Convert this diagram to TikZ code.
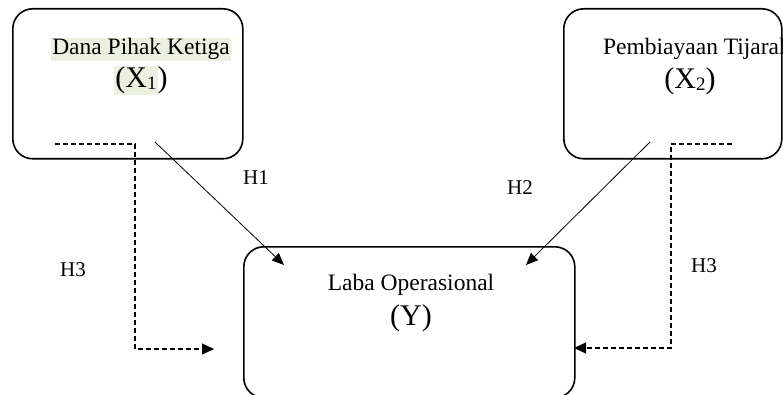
\documentclass[tikz,border=0pt]{standalone}
\usepackage{fontspec}
\setmainfont{Liberation Serif}
\usetikzlibrary{arrows.meta}
\definecolor{hl}{HTML}{EBF0E0}
\setlength\fboxsep{1pt}
\newcommand\mysub[1]{\raisebox{-2pt}{\fontsize{19}{19}\selectfont #1}}
\begin{document}
\begin{tikzpicture}[x=1pt,y=-1pt,
  box/.style={draw, line width=1.6pt, rounded corners=20pt, anchor=north west, inner sep=0pt},
  lbl/.style={anchor=base, inner sep=0pt, font=\fontsize{23.5}{27}\selectfont},
  big/.style={anchor=base, inner sep=0pt, font=\fontsize{30}{34}\selectfont},
  hyp/.style={anchor=base west, inner sep=0pt, font=\fontsize{21}{24}\selectfont},
  arr/.style={line width=0.8pt, -{Triangle[length=12pt,width=10pt]}},
  darr/.style={line width=1.3pt, dash pattern=on 5pt off 3pt, -{Triangle[length=12pt,width=11pt]}}]
\useasboundingbox (0,0) rectangle (783,395);
% boxes
\node[box, minimum width=230pt, minimum height=150pt] (x1) at (12,8) {};
\node[box, minimum width=218pt, minimum height=150pt] (x2) at (563,8) {};
\node[box, minimum width=331pt, minimum height=151pt] (y) at (243,246) {};
% texts
\node[lbl] (x1t) at (141,55) {\colorbox{hl}{Dana Pihak Ketiga}};
\node[big] (x1v) at (141,88) {\colorbox{hl}{(X\mysub{1}})};
\node[lbl] (x2t) at (697,55) {Pembiayaan Tijarah};
\node[big] (x2v) at (690,89) {(X\mysub{2})};
\node[lbl] (yt) at (411,290) {Laba Operasional};
\node[big] (yv) at (411,325) {(Y)};
% hypothesis labels
\node[hyp] (h1) at (243,185) {H1};
\node[hyp] (h2) at (507,195) {H2};
\node[hyp] (h3l) at (60,276) {H3};
\node[hyp] (h3r) at (691,272) {H3};
% connector ends
\coordinate (h1s) at (155,142);
\coordinate (h1e) at (284,265);
\coordinate (h2s) at (650,142);
\coordinate (h2e) at (526,265);
\coordinate (d1s) at (55,144);
\coordinate (d1c) at (135,349);
\coordinate (d1e) at (214,349);
\coordinate (d2s) at (732,144);
\coordinate (d2c) at (671,348);
\coordinate (d2e) at (574,348);
% connectors
\draw[arr] (h1s) -- (h1e);
\draw[arr] (h2s) -- (h2e);
\draw[darr] (d1s) -| (d1c) -- (d1e);
\draw[darr] (d2s) -| (d2c) -- (d2e);
\end{tikzpicture}
\end{document}
